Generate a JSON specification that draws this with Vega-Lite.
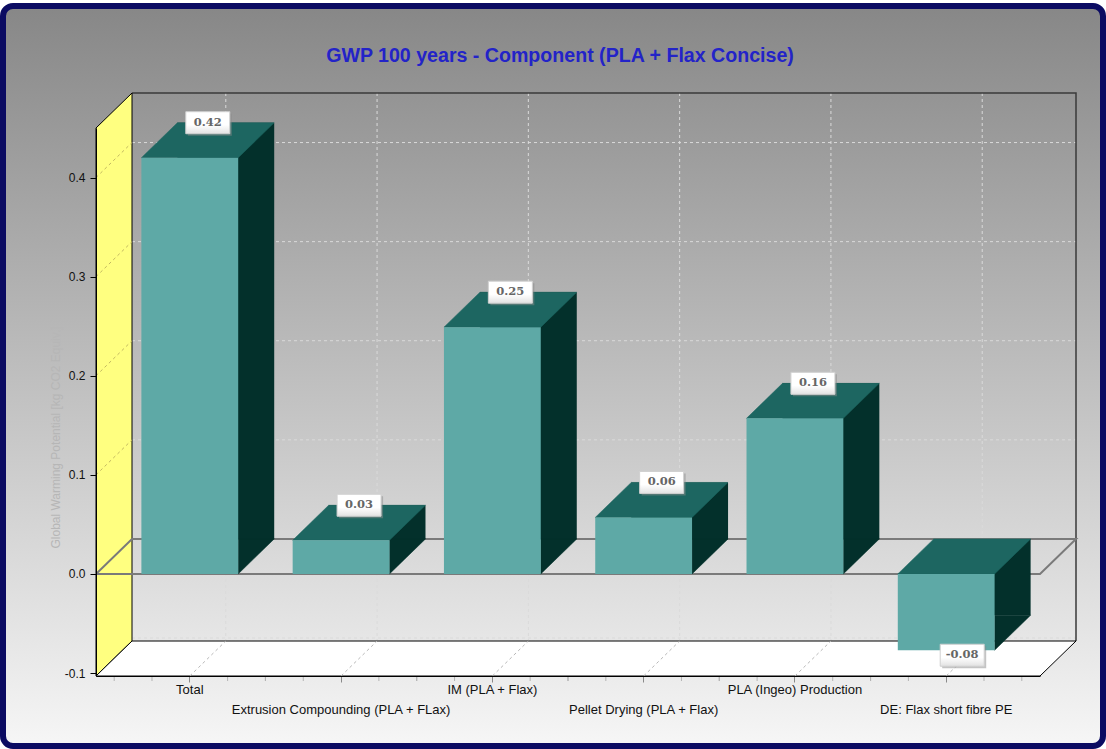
{
  "$schema": "https://vega.github.io/schema/vega-lite/v6.json",
  "width": 944,
  "height": 548,
  "autosize": {"type": "none"},
  "padding": {"left": 96, "top": 128, "right": 66, "bottom": 73},
  "background": "white",
  "config": {
    "view": {"stroke": null},
    "font": "Liberation Sans",
    "locale": {"number": {"decimal": ".", "thousands": ",", "grouping": [3], "currency": ["$", ""], "minus": "-"}}
  },
  "resolve": {"axis": {"x": "independent", "y": "independent"}},
  "datasets": {
    "gwp": [
      {"component": "Total", "gwp": 0.42},
      {"component": "Extrusion Compounding (PLA + FLax)", "gwp": 0.034},
      {"component": "IM (PLA + Flax)", "gwp": 0.249},
      {"component": "Pellet Drying (PLA + Flax)", "gwp": 0.057},
      {"component": "PLA (Ingeo) Production", "gwp": 0.157},
      {"component": "DE: Flax short fibre PE", "gwp": -0.077}
    ],
    "one": [{"k": 1}],
    "ticks": [{"v": -0.1}, {"v": 0.1}, {"v": 0.2}, {"v": 0.3}, {"v": 0.4}],
    "wallticks": [{"v": 0.1}, {"v": 0.2}, {"v": 0.3}, {"v": 0.4}]
  },
  "data": {"name": "gwp"},
  "layer": [
    {
      "data": {"name": "one"},
      "mark": {"type": "point", "size": 4, "filled": true, "opacity": 1,
        "shape": "M-555,-396H525A10,10 0 0 1 535,-386V334A10,10 0 0 1 525,344H-555A10,10 0 0 1 -565,334V-386A10,10 0 0 1 -555,-396Z",
        "fill": {"gradient": "linear", "x1": 0, "y1": 0, "x2": 0, "y2": 1,
          "stops": [{"offset": 0, "color": "#878787"}, {"offset": 1, "color": "#f6f6f6"}]},
        "stroke": "#0b0b62", "strokeWidth": 6},
      "encoding": {}
    },
    {
      "data": {"name": "ticks"},
      "mark": {"type": "point", "size": 4, "filled": false, "opacity": 1, "shape": "M-436,-35L508,-35",
        "stroke": "#dadada", "strokeWidth": 1, "strokeDash": [3, 3]},
      "encoding": {"y": {"field": "v", "type": "quantitative", "axis": null,
        "scale": {"domain": [-0.103, 0.45], "nice": false, "zero": false}}}
    },
    {
      "mark": {"type": "point", "size": 4, "filled": false, "opacity": 1, "shape": "M36,-309L36,239",
        "stroke": "#dadada", "strokeWidth": 1, "strokeDash": [3, 3]},
      "encoding": {"x": {"field": "component", "type": "nominal", "sort": null, "axis": null,
        "scale": {"paddingInner": 0.36, "paddingOuter": 0.3}}}
    },
    {
      "data": {"name": "one"},
      "mark": {"type": "point", "size": 4, "filled": false, "opacity": 1, "shape": "M-436,-309L508,-309L508,239",
        "stroke": "#3a3a3a", "strokeWidth": 1.5},
      "encoding": {}
    },
    {
      "data": {"name": "one"},
      "mark": {"type": "point", "size": 4, "filled": true, "opacity": 1, "shape": "M-472,-274L-472,274L-436,239L-436,-309Z",
        "fill": "#ffff80", "stroke": "#000000", "strokeWidth": 1},
      "encoding": {}
    },
    {
      "data": {"name": "wallticks"},
      "mark": {"type": "point", "size": 4, "filled": false, "opacity": 1, "shape": "M-472,0L-436,-35",
        "stroke": "#c2b860", "strokeWidth": 1, "strokeDash": [3, 3]},
      "encoding": {"y": {"field": "v", "type": "quantitative", "axis": null,
        "scale": {"domain": [-0.103, 0.45], "nice": false, "zero": false}}}
    },
    {
      "data": {"name": "one"},
      "mark": {"type": "point", "size": 4, "filled": true, "opacity": 1, "shape": "M-472,274L472,274L508,239L-436,239Z",
        "fill": "#ffffff", "stroke": "#000000", "strokeWidth": 1},
      "encoding": {}
    },
    {
      "mark": {"type": "point", "size": 4, "filled": false, "opacity": 1, "shape": "M0,274L36,239",
        "stroke": "#b8b8b8", "strokeWidth": 1, "strokeDash": [3, 3]},
      "encoding": {"x": {"field": "component", "type": "nominal", "sort": null, "axis": null,
        "scale": {"paddingInner": 0.36, "paddingOuter": 0.3}}}
    },
    {
      "mark": {"type": "point", "size": 4, "filled": false, "opacity": 1,
        "shape": "M-75.6,274V279M-37.8,274V279M37.8,274V279M75.6,274V279",
        "stroke": "#b4b4b4", "strokeWidth": 1},
      "encoding": {"x": {"field": "component", "type": "nominal", "sort": null, "axis": null,
        "scale": {"paddingInner": 0.36, "paddingOuter": 0.3}}}
    },
    {
      "data": {"name": "one"},
      "mark": {"type": "point", "size": 4, "filled": false, "opacity": 1, "shape": "M-472,0L472,0L508,-35L-436,-35Z",
        "stroke": "#7a7a7a", "strokeWidth": 2},
      "encoding": {"y": {"datum": 0, "type": "quantitative", "axis": null,
        "scale": {"domain": [-0.103, 0.45], "nice": false, "zero": false}}}
    },
    {
      "mark": {"type": "bar", "color": "#03302b", "xOffset": 36, "yOffset": -35, "y2Offset": -35},
      "encoding": {
        "x": {"field": "component", "type": "nominal", "sort": null, "axis": null,
          "scale": {"paddingInner": 0.36, "paddingOuter": 0.3}},
        "y": {"field": "gwp", "type": "quantitative", "axis": null,
          "scale": {"domain": [-0.103, 0.45], "nice": false, "zero": false}}
      }
    },
    {
      "transform": [{"filter": "datum.gwp >= 0"}],
      "mark": {"type": "point", "size": 4, "filled": true, "opacity": 1, "shape": "M48.4,-35L48.4,0L84.4,-35Z",
        "fill": "#03302b", "stroke": "#03302b", "strokeWidth": 0.5},
      "encoding": {
        "x": {"field": "component", "type": "nominal", "sort": null, "axis": null,
          "scale": {"paddingInner": 0.36, "paddingOuter": 0.3}},
        "y": {"datum": 0, "type": "quantitative", "axis": null,
          "scale": {"domain": [-0.103, 0.45], "nice": false, "zero": false}}
      }
    },
    {
      "transform": [{"filter": "datum.gwp < 0"}],
      "mark": {"type": "point", "size": 4, "filled": true, "opacity": 1, "shape": "M48.4,-35L48.4,0L84.4,-35Z",
        "fill": "#03302b", "stroke": "#03302b", "strokeWidth": 0.5},
      "encoding": {
        "x": {"field": "component", "type": "nominal", "sort": null, "axis": null,
          "scale": {"paddingInner": 0.36, "paddingOuter": 0.3}},
        "y": {"field": "gwp", "type": "quantitative", "axis": null,
          "scale": {"domain": [-0.103, 0.45], "nice": false, "zero": false}}
      }
    },
    {
      "transform": [{"filter": "datum.gwp >= 0"}],
      "mark": {"type": "point", "size": 4, "filled": true, "opacity": 1, "shape": "M-48.4,0L48.4,0L84.4,-35L-12.4,-35Z",
        "fill": "#1d6661", "stroke": "#1d6661", "strokeWidth": 0.5},
      "encoding": {
        "x": {"field": "component", "type": "nominal", "sort": null, "axis": null,
          "scale": {"paddingInner": 0.36, "paddingOuter": 0.3}},
        "y": {"field": "gwp", "type": "quantitative", "axis": null,
          "scale": {"domain": [-0.103, 0.45], "nice": false, "zero": false}}
      }
    },
    {
      "transform": [{"filter": "datum.gwp < 0"}],
      "mark": {"type": "point", "size": 4, "filled": true, "opacity": 1, "shape": "M-48.4,0L48.4,0L84.4,-35L-12.4,-35Z",
        "fill": "#1d6661", "stroke": "#1d6661", "strokeWidth": 0.5},
      "encoding": {
        "x": {"field": "component", "type": "nominal", "sort": null, "axis": null,
          "scale": {"paddingInner": 0.36, "paddingOuter": 0.3}},
        "y": {"datum": 0, "type": "quantitative", "axis": null,
          "scale": {"domain": [-0.103, 0.45], "nice": false, "zero": false}}
      }
    },
    {
      "mark": {"type": "bar", "color": "#5ea9a6"},
      "encoding": {
        "x": {"field": "component", "type": "nominal", "sort": null,
          "scale": {"paddingInner": 0.36, "paddingOuter": 0.3},
          "axis": {"title": null, "labelAngle": 0, "labelFont": "Liberation Sans", "labelFontSize": 13,
            "labelColor": "#111111", "labelLimit": 400, "labelOverlap": false, "labelBaseline": "top",
            "tickColor": "#8a8a8a", "tickSize": 6, "domainColor": "#000000", "zindex": 1,
            "labelPadding": {"condition": {"test": "indexof(['Extrusion Compounding (PLA + FLax)', 'Pellet Drying (PLA + Flax)', 'DE: Flax short fibre PE'], datum.value) >= 0", "value": 21}, "value": 1}}},
        "y": {"field": "gwp", "type": "quantitative",
          "scale": {"domain": [-0.103, 0.45], "nice": false, "zero": false},
          "axis": {"title": "Global Warming Potential [kg CO2 Equiv.]", "values": [-0.1, 0, 0.1, 0.2, 0.3, 0.4],
            "format": ".1f", "grid": false, "tickSize": 6, "tickColor": "#000000", "domainColor": "#000000",
            "labelPadding": 5, "labelFont": "Liberation Sans", "labelFontSize": 12, "labelColor": "#111111",
            "titleColor": "#b6b6b6", "titleFont": "Liberation Sans", "titleFontSize": 12, "titleFontWeight": "normal",
            "titleX": -41, "titleY": 309, "titleAlign": "center", "titleBaseline": "middle", "titleAngle": 270, "zindex": 1}}
      }
    },
    {
      "transform": [{"filter": "datum.gwp >= 0"}],
      "mark": {"type": "point", "size": 4, "filled": true, "opacity": 0.5, "shape": "M-2,-44H42V-22H-2Z", "fill": "#8a8a8a"},
      "encoding": {
        "x": {"field": "component", "type": "nominal", "sort": null, "axis": null,
          "scale": {"paddingInner": 0.36, "paddingOuter": 0.3}},
        "y": {"field": "gwp", "type": "quantitative", "axis": null,
          "scale": {"domain": [-0.103, 0.45], "nice": false, "zero": false}}
      }
    },
    {
      "transform": [{"filter": "datum.gwp >= 0"}],
      "mark": {"type": "point", "size": 4, "filled": true, "opacity": 1, "shape": "M-4,-46H40V-24H-4Z",
        "stroke": "#d0d0d0", "strokeWidth": 1,
        "fill": {"gradient": "linear", "x1": 0, "y1": 0, "x2": 0, "y2": 1,
          "stops": [{"offset": 0, "color": "#ffffff"}, {"offset": 0.6, "color": "#ffffff"}, {"offset": 1, "color": "#e2e2e2"}]}},
      "encoding": {
        "x": {"field": "component", "type": "nominal", "sort": null, "axis": null,
          "scale": {"paddingInner": 0.36, "paddingOuter": 0.3}},
        "y": {"field": "gwp", "type": "quantitative", "axis": null,
          "scale": {"domain": [-0.103, 0.45], "nice": false, "zero": false}}
      }
    },
    {
      "transform": [{"filter": "datum.gwp >= 0"}],
      "mark": {"type": "text", "dx": 18, "dy": -35, "align": "center", "baseline": "middle",
        "font": "DejaVu Serif", "fontWeight": "bold", "fontSize": 11.5, "color": "#666666"},
      "encoding": {
        "x": {"field": "component", "type": "nominal", "sort": null, "axis": null,
          "scale": {"paddingInner": 0.36, "paddingOuter": 0.3}},
        "y": {"field": "gwp", "type": "quantitative", "axis": null,
          "scale": {"domain": [-0.103, 0.45], "nice": false, "zero": false}},
        "text": {"field": "gwp", "type": "quantitative", "format": ".2f"}
      }
    },
    {
      "transform": [{"filter": "datum.gwp < 0"}],
      "mark": {"type": "point", "size": 4, "filled": true, "opacity": 0.5, "shape": "M-4,-4H40V18H-4Z", "fill": "#8a8a8a"},
      "encoding": {
        "x": {"field": "component", "type": "nominal", "sort": null, "axis": null,
          "scale": {"paddingInner": 0.36, "paddingOuter": 0.3}},
        "y": {"field": "gwp", "type": "quantitative", "axis": null,
          "scale": {"domain": [-0.103, 0.45], "nice": false, "zero": false}}
      }
    },
    {
      "transform": [{"filter": "datum.gwp < 0"}],
      "mark": {"type": "point", "size": 4, "filled": true, "opacity": 1, "shape": "M-6,-6H38V16H-6Z",
        "stroke": "#d0d0d0", "strokeWidth": 1,
        "fill": {"gradient": "linear", "x1": 0, "y1": 0, "x2": 0, "y2": 1,
          "stops": [{"offset": 0, "color": "#ffffff"}, {"offset": 0.6, "color": "#ffffff"}, {"offset": 1, "color": "#e2e2e2"}]}},
      "encoding": {
        "x": {"field": "component", "type": "nominal", "sort": null, "axis": null,
          "scale": {"paddingInner": 0.36, "paddingOuter": 0.3}},
        "y": {"field": "gwp", "type": "quantitative", "axis": null,
          "scale": {"domain": [-0.103, 0.45], "nice": false, "zero": false}}
      }
    },
    {
      "transform": [{"filter": "datum.gwp < 0"}],
      "mark": {"type": "text", "dx": 16, "dy": 5, "align": "center", "baseline": "middle",
        "font": "DejaVu Serif", "fontWeight": "bold", "fontSize": 11.5, "color": "#666666"},
      "encoding": {
        "x": {"field": "component", "type": "nominal", "sort": null, "axis": null,
          "scale": {"paddingInner": 0.36, "paddingOuter": 0.3}},
        "y": {"field": "gwp", "type": "quantitative", "axis": null,
          "scale": {"domain": [-0.103, 0.45], "nice": false, "zero": false}},
        "text": {"field": "gwp", "type": "quantitative", "format": ".2f"}
      }
    },
    {
      "data": {"name": "one"},
      "mark": {"type": "text", "text": "GWP 100 years - Component (PLA + Flax Concise)", "dx": -8, "dy": -346,
        "align": "center", "baseline": "middle", "font": "Liberation Sans", "fontWeight": "bold",
        "fontSize": 19.6, "color": "#2323c8"},
      "encoding": {}
    }
  ]
}
